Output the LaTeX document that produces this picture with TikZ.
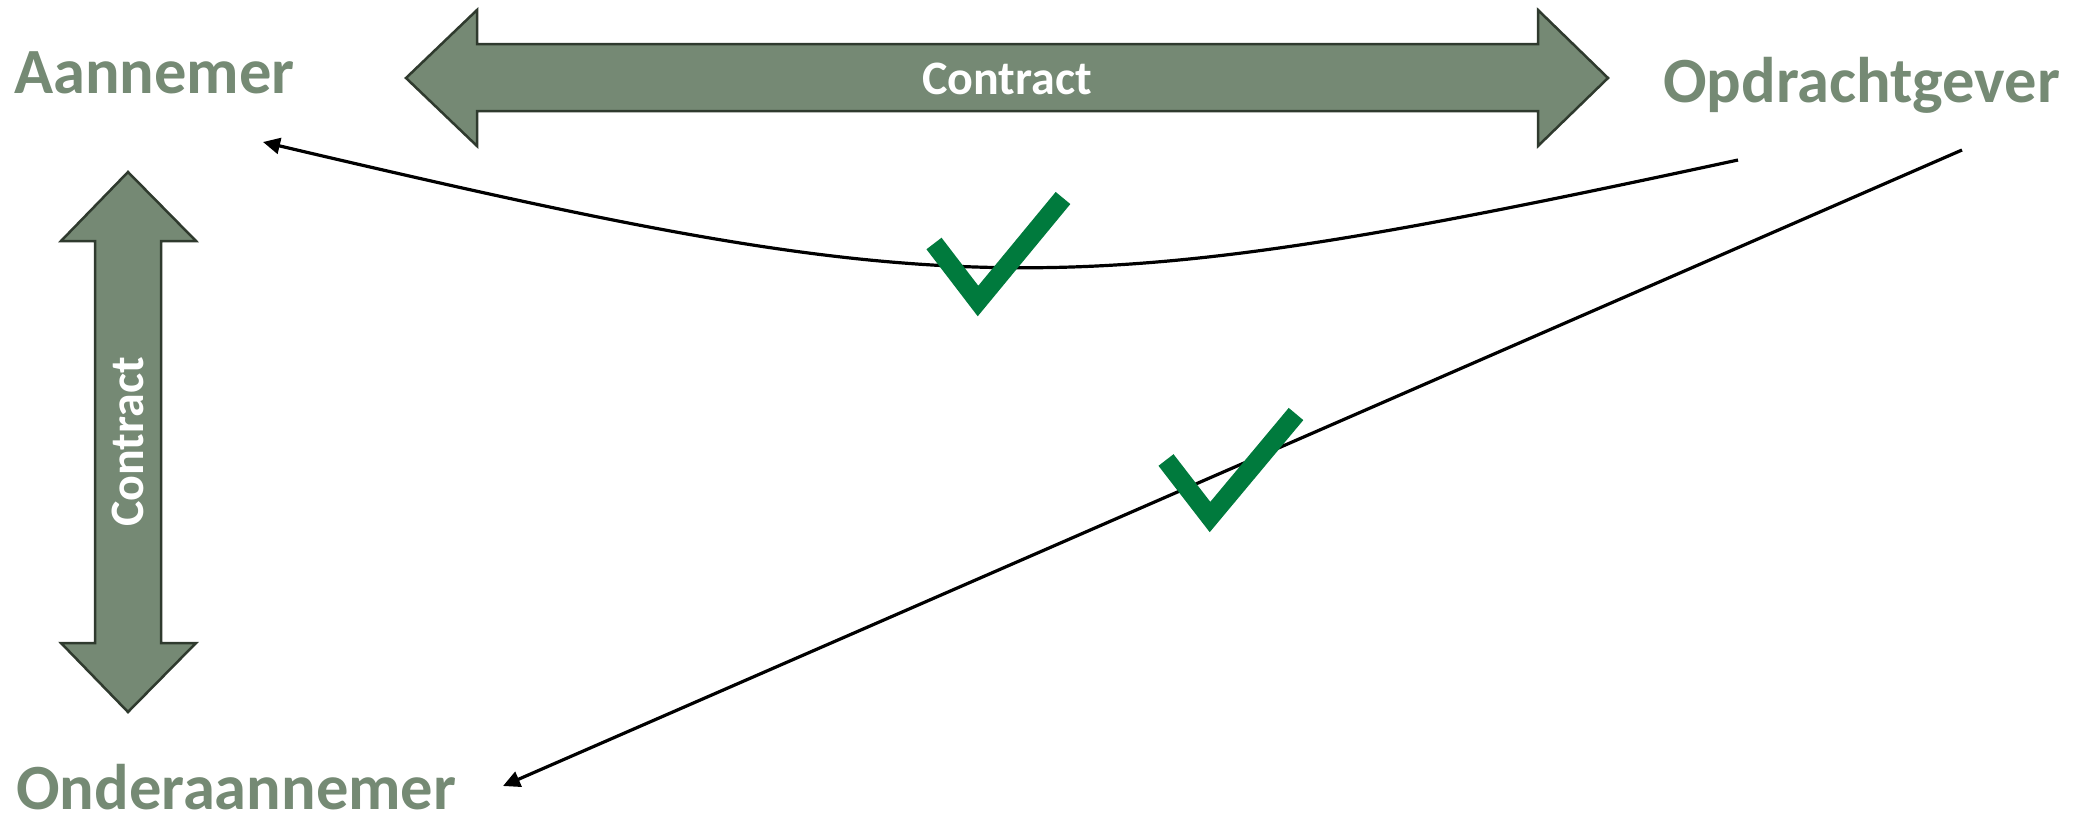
\documentclass[tikz,border=0pt]{standalone}
\usepackage{fontspec}
\setmainfont{Carlito}
\usetikzlibrary{arrows.meta}
\definecolor{lblgreen}{RGB}{117,138,116}
\definecolor{arrfill}{RGB}{117,137,116}
\definecolor{arrline}{RGB}{47,58,46}
\definecolor{chkgreen}{RGB}{0,122,61}
\begin{document}
\begin{tikzpicture}[x=1pt,y=-1pt,
  party/.style={font=\bfseries\fontsize{64.5}{64.5}\selectfont, text=lblgreen, anchor=base west, inner sep=0pt},
  blockarrow/.style={fill=arrfill, draw=arrline, line width=2.5pt, line join=miter},
  contractlbl/.style={font=\bfseries\fontsize{48}{48}\selectfont, text=white, anchor=base, inner sep=0pt},
  relation/.style={line width=3.2pt, -{Triangle[length=17pt,width=16pt]}},
  check/.style={draw=chkgreen, line width=19pt, line cap=butt, line join=miter}
]
\useasboundingbox (0,0) rectangle (2073,815);

% party labels
\node[party] (aan) at (14,93) {Aannemer};
\node[party] (opd) at (1663,102) {Opdrachtgever};
\node[party] (ond) at (16,809) {Onderaannemer};

% horizontal contract arrow
\draw[blockarrow] (406,78) -- (477,10) -- (477,44) -- (1538,44) -- (1538,10) -- (1608,78)
  -- (1538,146) -- (1538,111) -- (477,111) -- (477,146) -- cycle;
\node[contractlbl] (ch) at (1007,94) {Contract};

% vertical contract arrow
\draw[blockarrow] (128,172) -- (196,241) -- (161,241) -- (161,643) -- (196,643) -- (128,712)
  -- (61,643) -- (95,643) -- (95,241) -- (61,241) -- cycle;
\node[contractlbl, rotate=90] (cv) at (143,442) {Contract};

% relation connectors
\coordinate (curveStart) at (1738,160);
\coordinate (curveEnd) at (263,142);
\coordinate (lineStart) at (1962,150);
\coordinate (lineEnd) at (503,786);
\draw[relation] (curveStart) .. controls (1060,306) and (960,306) .. (curveEnd);
\draw[relation] (lineStart) -- (lineEnd);

% check marks
\draw[check] (934,243.5) -- (978,301) -- (1063,198);
\draw[check] (1166,460) -- (1210,517) -- (1296,414);
\end{tikzpicture}
\end{document}
